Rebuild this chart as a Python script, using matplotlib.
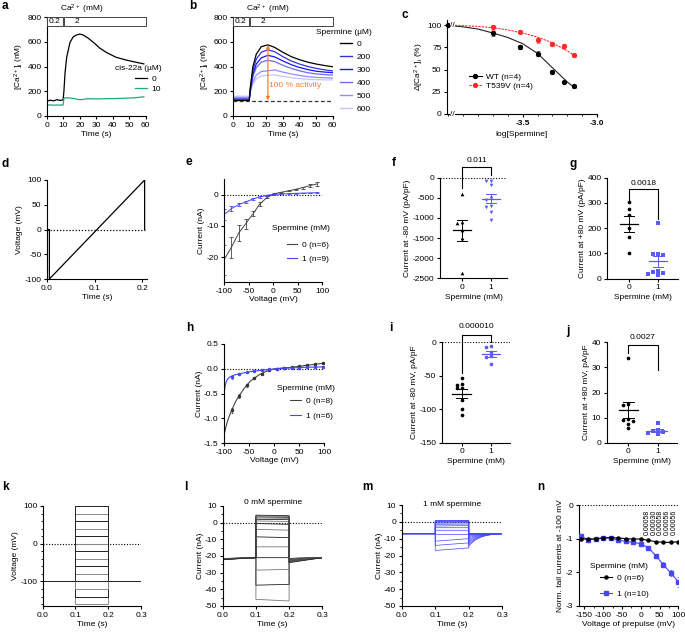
import matplotlib
matplotlib.use("Agg")
import matplotlib.pyplot as plt
from matplotlib.patches import Rectangle
from matplotlib.lines import Line2D
from matplotlib.ticker import MultipleLocator
import numpy as np

plt.rcParams['font.family'] = ['Liberation Sans', 'DejaVu Sans']
plt.rcParams['mathtext.default'] = 'regular'
plt.rcParams['font.size'] = 6
plt.rcParams['axes.linewidth'] = 0.8
plt.rcParams['axes.unicode_minus'] = False

BLUE = '#4646ff'
DOTBLUE = '#5a5aff'
ORANGE = '#ff7f2a'
GREEN = '#22a87a'
RED = '#ff2a2a'

# ------------------------------------------------
# DATA
# ------------------------------------------------

# a : Ca2+ imaging, cis-22a
a_time = [0, 2, 4, 6, 8, 9.8, 10.3, 11, 12, 14, 16, 18, 20, 22, 25, 29, 32, 36, 42, 48, 54, 59]
a_ctrl = [120, 128, 122, 132, 126, 130, 200, 350, 475, 595, 640, 655, 662, 655, 630, 587, 550, 515, 475, 453, 435, 421]
a_drug = [88, 90, 87, 89, 88, 90, 140, 148, 147, 145, 142, 136, 132, 134, 140, 138, 138, 140, 141, 144, 148, 155]
a_doses = ['0', '10']

ca_labels = ['0.2', '2']
ca_start = [0, 10.5]
ca_end = [9.5, 60]

# b : spermine dose series
b_time = [0, 9.8, 10.5, 12, 14, 17, 21, 25, 30, 35, 40, 45, 50, 55, 60]
b_doses = ['0', '200', '300', '400', '500', '600']
b_0 = [125, 125, 240, 400, 500, 560, 575, 555, 515, 480, 455, 435, 420, 408, 398]
b_200 = [135, 135, 230, 370, 460, 515, 535, 520, 480, 445, 420, 400, 385, 373, 364]
b_300 = [130, 130, 215, 340, 420, 470, 490, 478, 445, 415, 392, 375, 362, 355, 350]
b_400 = [140, 140, 210, 320, 390, 435, 450, 440, 410, 385, 365, 350, 340, 335, 331]
b_500 = [150, 150, 200, 280, 330, 360, 365, 372, 355, 340, 328, 318, 312, 309, 307]
b_600 = [160, 160, 200, 260, 300, 322, 330, 332, 320, 310, 302, 297, 294, 292, 291]
b_baseline = 125
b_peak = 575
b_peak_time = 21

# c : dose response
c_ctrl_x = -4.0
c_logx = [-3.70, -3.52, -3.40, -3.30, -3.22, -3.155]
c_wt = [90.6, 75.3, 67.8, 47, 36, 31]
c_wt_err = [2.5, 2.5, 2.5, 2.5, 1.5, 1.5]
c_mut = [97.4, 92.4, 83, 79, 76, 66]
c_mut_err = [3, 1.5, 3, 2, 3, 2]
c_fit_x = [-4.0, -3.9, -3.8, -3.7, -3.6, -3.5, -3.4, -3.3, -3.2, -3.155]
c_fit_wt = [99.5, 98, 95.5, 91, 86, 79, 68, 52, 36, 30]
c_fit_mut = [100, 99.3, 98.5, 97, 94.5, 91, 86.5, 80, 71, 66]

# d : ramp protocol
d_time = [0, 0.005, 0.005, 0.205, 0.205]
d_volt = [0, 0, -100, 100, 0]

# e : ramp IV, HEK
e_volt = [-100, -85, -70, -56, -41, -27, -12, 3, 17, 32, 46, 61, 76, 90]
e_ctrl = [-20.9, -16.9, -12.3, -9.4, -6.2, -3.0, -0.9, 0.3, 0.75, 1.2, 1.7, 2.25, 2.9, 3.4]
e_ctrl_err = [4.8, 3.4, 2.5, 1.5, 0.8, 0.5, 0.3, 0.2, 0.2, 0.2, 0.2, 0.3, 0.4, 0.5]
e_sperm = [-6.4, -4.5, -3.2, -2.4, -1.4, -0.75, -0.2, 0.1, 0.2, 0.3, 0.4, 0.5, 0.55, 0.6]
e_sperm_err = [1.7, 0.8, 0.6, 0.4, 0.3, 0.2, 0.1, 0.1, 0.1, 0.1, 0.1, 0.1, 0.1, 0.1]

# f, g : HEK current densities
f_ctrl = [-414, -1101, -1118, -1300, -1500, -2376]
f_sperm = [-75, -75, -182, -500, -560, -700, -720, -845, -1052]
f_p = '0.011'
g_ctrl = [305, 278, 252, 199, 164, 103]
g_sperm = [219, 99, 96, 94, 30, 28, 22, 20, 16]
g_p = '0.0018'

# h : ramp IV, second cell type
h_volt = [-100, -95, -90, -85, -78, -70, -62, -55, -48, -40, -30, -20, -10, 0, 10, 20, 35, 50, 65, 82, 97]
h_ctrl = [-1.31, -1.1, -0.95, -0.83, -0.67, -0.54, -0.42, -0.33, -0.25, -0.19, -0.12, -0.07, -0.03, 0.0, 0.01, 0.02, 0.03, 0.05, 0.07, 0.09, 0.11]
h_volt_b = [-100, -99, -97, -95, -92, -88, -84, -78, -70, -60, -50, -40, -30, -20, -10, 0, 20, 40, 60, 80, 100]
h_sperm = [-0.5, -0.38, -0.29, -0.23, -0.19, -0.16, -0.14, -0.12, -0.1, -0.08, -0.06, -0.045, -0.035, -0.025, -0.015, -0.005, 0.01, 0.02, 0.03, 0.035, 0.04]
h_pt_volt = [-85, -70, -55, -40, -25, -10, 5, 20, 35, 50, 65, 82, 97]
h_pt_ctrl = [-0.83, -0.54, -0.33, -0.19, -0.1, -0.03, 0.0, 0.02, 0.03, 0.05, 0.07, 0.09, 0.11]
h_pt_ctrl_err = [0.05, 0.04, 0.03, 0.02, 0.01, 0.01, 0.01, 0.01, 0.01, 0.01, 0.01, 0.015, 0.02]
h_pt_sperm = [-0.17, -0.11, -0.07, -0.04, -0.025, -0.01, 0.0, 0.01, 0.02, 0.025, 0.03, 0.035, 0.04]
h_pt_sperm_err = [0.03, 0.02, 0.015, 0.01, 0.01, 0.01, 0.01, 0.01, 0.01, 0.01, 0.01, 0.01, 0.01]

# i, j : current densities
i_ctrl = [-54, -63, -64, -69, -69, -86, -99, -108]
i_sperm = [-6, -7, -15, -20, -22, -33]
i_p = '0.000010'
j_ctrl = [33.6, 15.5, 15, 9.5, 9, 8.5, 7.5, 5.7]
j_sperm = [7.8, 5, 4.5, 4.3, 4, 3.3]
j_p = '0.0027'

# k : step protocol
k_levels = [-160, -140, -120, -100, -80, -60, -40, -20, 0, 20, 40, 60, 80, 100]
k_hold = -100
step_on, step_off, sweep_end = 0.1, 0.2, 0.3

# l : 0 mM spermine traces
l_hold = -21.5
l_step_start = [-46, -37.5, -28.5, -21, -14.5, -8.5, -4, -0.5, 1, 2, 2.8, 3.5, 4, 4.5]
l_step_end = [-47, -37, -28, -21, -14.5, -9, -4.5, -1, 0.7, 1.8, 2.6, 3.2, 3.7, 4.2]
l_tail = [-21.5, -21.5, -21.5, -21.5, -21.6, -21.8, -22, -22.3, -22.6, -23, -23.3, -23.5, -23.7, -24]
l_end = -21

# m : 1 mM spermine traces
m_hold = -7
m_step_start = [-17, -14, -11.5, -7, -5, -3.5, -2.5, -1.5, -0.8, -0.2, 0.3, 0.5, 0.6, 0.7]
m_step_end = [-15.5, -12.5, -10, -7, -5, -3.5, -2.2, -1.3, -0.6, 0, 0.3, 0.5, 0.6, 0.7]
m_tail = [-7, -7, -7, -7, -7.2, -7.5, -8, -8.7, -9.5, -10.5, -11.5, -12.5, -13.5, -14.5]
m_tail_t = [0.2, 0.21, 0.22, 0.235, 0.25, 0.27, 0.3]
m_tail_frac = [1, 0.72, 0.5, 0.3, 0.17, 0.07, 0]

# n : normalized tail currents
n_volt = [-160, -140, -120, -100, -80, -60, -40, -20, 0, 20, 40, 60, 80, 100]
n_ctrl = [-1.01, -1.01, -1.01, -0.98, -0.97, -0.98, -1.0, -1.01, -1.01, -1.05, -1.09, -1.11, -1.11, -1.09]
n_ctrl_err = [0.02] * 14
n_sperm = [-0.93, -1.03, -1.01, -0.98, -0.98, -1.05, -1.08, -1.11, -1.15, -1.27, -1.5, -1.77, -2.02, -2.28]
n_sperm_err = [0.03, 0.03, 0.02, 0.02, 0.02, 0.03, 0.03, 0.03, 0.03, 0.04, 0.05, 0.07, 0.08, 0.15]
n_pvals = ['0.00058', '0.00030', '0.00058', '0.00056', '0.00056']

# ------------------------------------------------
# HELPERS
# ------------------------------------------------

W, H = 685, 633
fig = plt.figure(figsize=(6.85, 6.33), dpi=100)


def px_axes(x0, y0, x1, y1):
    ax = fig.add_axes([x0 / W, 1 - y1 / H, (x1 - x0) / W, (y1 - y0) / H])
    for s in ['top', 'right']:
        ax.spines[s].set_visible(False)
    ax.tick_params(direction='out', length=2.5, width=0.8, labelsize=6, pad=1.5)
    ax.tick_params(which='minor', length=1.5, width=0.6)
    return ax


def label(x, y, s):
    fig.text(x / W, 1 - y / H, s, fontsize=8.5, fontweight='bold', va='center', ha='left')


def ftext(x, y, s, **kw):
    fig.text(x / W, 1 - y / H, s, fontsize=6, va='center', ha='left', **kw)


def legend(ax, handles, labels, x, y, spacing, hl=1.4):
    leg = ax.legend(handles, labels, loc='upper left',
                    bbox_to_anchor=(x / W, 1 - (y - 4.5) / H), bbox_transform=fig.transFigure,
                    frameon=False, fontsize=6, borderpad=0, borderaxespad=0,
                    handlelength=hl, handletextpad=0.6,
                    labelspacing=(spacing - 8.3) / 8.3)
    return leg


def ca_boxes(ax):
    for lab, s, e in zip(ca_labels, ca_start, ca_end):
        ax.add_patch(Rectangle((s, 730), e - s, 70, facecolor='white', edgecolor='#444444',
                               lw=0.7, clip_on=False, zorder=4))
    ax.text((ca_start[0] + ca_end[0]) / 2, 765, ca_labels[0], ha='center', va='center', fontsize=6, zorder=5)
    ax.text(18, 765, ca_labels[1], ha='center', va='center', fontsize=6, zorder=5)
    ax.text(21, 808, 'Ca$^{2+}$ (mM)', ha='center', va='bottom', fontsize=6, clip_on=False)


def swarm(vals, tol, step):
    placed = []
    offs = []
    for v in vals:
        near = [o for (pv, o) in placed if abs(pv - v) < tol]
        for c in [0, -step, step, -2 * step, 2 * step]:
            if c not in near:
                break
        placed.append((v, c))
        offs.append(c)
    return offs


def dot_panel(ax, v0, v1, m0, m1, tol, p, yb_left, yb_top, yb_right, yp):
    for xi, vals, mk, col in [(0, v0, m0, 'black'), (1, v1, m1, DOTBLUE)]:
        offs = swarm(vals, tol, 0.17)
        ax.scatter([xi + o for o in offs], vals, marker=mk, s=7, color=col, lw=0, zorder=3, clip_on=False)
        mean = np.mean(vals)
        sem = np.std(vals, ddof=1) / np.sqrt(len(vals))
        ax.plot([xi - 0.32, xi + 0.32], [mean, mean], color=col, lw=0.9, zorder=4)
        ax.plot([xi, xi], [mean - sem, mean + sem], color=col, lw=0.7, zorder=4)
        for yy in [mean - sem, mean + sem]:
            ax.plot([xi - 0.18, xi + 0.18], [yy, yy], color=col, lw=0.7, zorder=4)
    ax.plot([0, 0, 1, 1], [yb_left, yb_top, yb_top, yb_right], color='black', lw=0.8, clip_on=False)
    ax.text(0.5, yp, p, ha='center', va='center', fontsize=6, clip_on=False)
    ax.axhline(0, color='black', lw=0.8, ls=(0, (1, 1.5)), zorder=1)
    ax.set_xticks([0, 1])
    ax.set_xlabel('Spermine (mM)', labelpad=2)


# ------------------------------------------------
# PANEL a
# ------------------------------------------------

ax = px_axes(47, 17, 145.5, 116)
ax.plot(a_time, a_ctrl, color='black', lw=0.9)
ax.plot(a_time, a_drug, color=GREEN, lw=0.9)
ax.set_xlim(0, 60)
ax.set_ylim(0, 800)
ax.set_xticks(range(0, 61, 10))
ax.set_yticks(range(0, 801, 200))
ax.set_xlabel('Time (s)', labelpad=2)
ax.set_ylabel('[Ca$^{2+}$]$_i$ (nM)', labelpad=1)
ca_boxes(ax)
ftext(115, 69, 'cis-22a (µM)')
legend(ax, [Line2D([], [], color='black', lw=0.9), Line2D([], [], color=GREEN, lw=0.9)],
       a_doses, 135, 80, 10.5)

# ------------------------------------------------
# PANEL b
# ------------------------------------------------

ax = px_axes(233, 17, 332.7, 116)
b_colors = ['black', '#3636d8', '#1515ff', '#6c6cf2', '#8e8eff', '#c6c6ff']
b_lines = []
for ys, col in zip([b_0, b_200, b_300, b_400, b_500, b_600][::-1], b_colors[::-1]):
    ax.plot(b_time, ys, color=col, lw=0.9)
for col in b_colors:
    b_lines.append(Line2D([], [], color=col, lw=1.0))
ax.plot([0, 60], [b_baseline, b_baseline], color='#333333', lw=0.9, ls=(0, (3, 2)), zorder=3)
ax.annotate('', xy=(b_peak_time, b_peak), xytext=(b_peak_time, b_baseline),
            arrowprops=dict(arrowstyle='<|-|>', color=ORANGE, lw=0.9, mutation_scale=5, shrinkA=0, shrinkB=0), zorder=5)
ax.text(b_peak_time + 0.8, 245, '100 % activity', color=ORANGE, fontsize=6, va='center', ha='left', zorder=5)
ax.set_xlim(0, 60)
ax.set_ylim(0, 800)
ax.set_xticks(range(0, 61, 10))
ax.set_yticks(range(0, 801, 200))
ax.set_xlabel('Time (s)', labelpad=2)
ax.set_ylabel('[Ca$^{2+}$]$_i$ (nM)', labelpad=1)
ca_boxes(ax)
ftext(316, 33, 'Spermine (µM)')
legend(ax, b_lines, b_doses, 340, 44.3, 13.5)

# ------------------------------------------------
# PANEL c
# ------------------------------------------------

ax = px_axes(447, 20, 597, 114)
ax.plot(c_fit_x, c_fit_wt, color='#222222', lw=0.8)
ax.plot(c_fit_x, c_fit_mut, color=RED, lw=0.8, ls=(0, (2, 1)))
ax.errorbar(c_logx, c_wt, yerr=c_wt_err, fmt='o', ms=2.8, color='black', ecolor='#555555',
            elinewidth=0.6, capsize=1.2, capthick=0.6, zorder=4)
ax.errorbar(c_logx, c_mut, yerr=c_mut_err, fmt='o', ms=2.8, color=RED, ecolor='#ff7777',
            elinewidth=0.6, capsize=1.2, capthick=0.6, zorder=4)
ax.plot([c_ctrl_x], [100], 'o', ms=2.8, color='black', clip_on=False, zorder=5)
ax.set_xlim(-4.01, -3.0)
ax.set_ylim(0, 105.7)
ax.set_yticks([0, 25, 50, 75, 100])
ax.set_xticks([-3.5, -3.0])
ax.set_xticklabels(['-3.5', '-3.0'], fontweight='bold')
ax.xaxis.set_minor_locator(MultipleLocator(0.1))
for yy in [0, 100]:
    ax.text(-3.975, yy, '//', fontsize=6, ha='center', va='center', clip_on=False,
            bbox=dict(facecolor='white', edgecolor='none', pad=0.2), zorder=6)
ax.set_xlabel('log[Spermine]', labelpad=3)
ax.set_ylabel(r'$\Delta$[Ca$^{2+}$]$_i$ (%)', labelpad=1)
legend(ax, [Line2D([], [], color='black', lw=0.8, marker='o', ms=2.8),
            Line2D([], [], color=RED, lw=0.8, ls=(0, (2, 1)), marker='o', ms=2.8)],
       ['WT (n=4)', 'T539V (n=4)'], 469, 78, 9.5, hl=1.5)

# ------------------------------------------------
# PANEL d
# ------------------------------------------------

ax = px_axes(47, 180, 147, 279)
ax.plot([0, 0.205], [0, 0], color='black', lw=0.9, ls=(0, (1, 1.5)))
ax.plot(d_time, d_volt, color='black', lw=0.9)
ax.set_xlim(0, 0.21)
ax.set_ylim(-100, 100)
ax.set_xticks([0.0, 0.1, 0.2])
ax.set_xticklabels(['0.0', '0.1', '0.2'])
ax.set_yticks([-100, -50, 0, 50, 100])
ax.set_xlabel('Time (s)', labelpad=2)
ax.set_ylabel('Voltage (mV)', labelpad=1)

# ------------------------------------------------
# PANEL e
# ------------------------------------------------

ax = px_axes(224, 179, 322, 282)
ax.axhline(0, color='black', lw=0.8, ls=(0, (1, 1.5)))
ax.errorbar(e_volt, e_ctrl, yerr=e_ctrl_err, color='#444444', lw=0.7, elinewidth=0.6,
            capsize=1.2, capthick=0.6)
ax.errorbar(e_volt, e_sperm, yerr=e_sperm_err, color=BLUE, lw=0.7, elinewidth=0.6,
            capsize=1.2, capthick=0.6)
ax.set_xlim(-100, 100)
ax.set_ylim(-28, 5)
ax.set_xticks([-100, -50, 0, 50, 100])
ax.set_yticks([-20, -10, 0])
ax.set_xlabel('Voltage (mV)', labelpad=1)
ax.set_ylabel('Current (nA)', labelpad=1)
ftext(272, 229, 'Spermine (mM)')
legend(ax, [Line2D([], [], color='#444444', lw=0.8), Line2D([], [], color=BLUE, lw=0.8)],
       ['0 (n=6)', '1 (n=9)'], 287, 246, 14, hl=1.2)

# ------------------------------------------------
# PANEL f, g
# ------------------------------------------------

ax = px_axes(440, 177.7, 507, 278.3)
dot_panel(ax, f_ctrl, f_sperm, '^', 'v', 90, f_p, -250, 265, 70, 430)
ax.set_xlim(-0.76, 1.55)
ax.set_ylim(-2500, 0)
ax.set_yticks([-2500, -2000, -1500, -1000, -500, 0])
ax.set_ylabel('Current at -80 mV (pA/pF)', labelpad=1)

ax = px_axes(607, 177.7, 678, 278.7)
dot_panel(ax, g_ctrl, g_sperm, 'o', 's', 14, g_p, 312, 354, 238, 378)
ax.set_xlim(-0.76, 1.69)
ax.set_ylim(0, 400)
ax.set_yticks([0, 100, 200, 300, 400])
ax.set_ylabel('Current at +80 mV (pA/pF)', labelpad=1)

# ------------------------------------------------
# PANEL h
# ------------------------------------------------

ax = px_axes(224.3, 344, 324, 443.3)
ax.axhline(0, color='black', lw=0.8, ls=(0, (1, 1.5)))
ax.plot(h_volt, h_ctrl, color='#444444', lw=0.8)
ax.plot(h_volt_b, h_sperm, color=BLUE, lw=0.8)
ax.errorbar(h_pt_volt, h_pt_ctrl, yerr=h_pt_ctrl_err, fmt='o', ms=1.5, color='#333333',
            elinewidth=0.5, capsize=1, capthick=0.5)
ax.errorbar(h_pt_volt, h_pt_sperm, yerr=h_pt_sperm_err, fmt='o', ms=1.5, color=BLUE,
            elinewidth=0.5, capsize=1, capthick=0.5)
ax.set_xlim(-100, 100)
ax.set_ylim(-1.5, 0.5)
ax.set_xticks([-100, -50, 0, 50, 100])
ax.set_yticks([-1.5, -1.0, -0.5, 0.0, 0.5])
ax.set_xlabel('Voltage (mV)', labelpad=1)
ax.set_ylabel('Current (nA)', labelpad=1)
ftext(277, 388, 'Spermine (mM)')
legend(ax, [Line2D([], [], color='#444444', lw=0.8), Line2D([], [], color=BLUE, lw=0.8)],
       ['0 (n=8)', '1 (n=6)'], 290, 402, 15, hl=1.3)

# ------------------------------------------------
# PANEL i, j
# ------------------------------------------------

ax = px_axes(441.7, 342.3, 510, 442.7)
dot_panel(ax, i_ctrl, i_sperm, 'o', 'o', 4, i_p, -46, 11, 0, 23)
ax.set_xlim(-0.68, 1.65)
ax.set_ylim(-150, 0)
ax.set_yticks([-150, -100, -50, 0])
ax.set_ylabel('Current at -80 mV, pA/pF', labelpad=1)

ax = px_axes(606.7, 342.3, 676.7, 442.7)
dot_panel(ax, j_ctrl, j_sperm, 'o', 's', 1.2, j_p, 35.6, 38.9, 28.9, 42)
ax.set_xlim(-0.74, 1.65)
ax.set_ylim(0, 40)
ax.set_yticks([0, 10, 20, 30, 40])
ax.set_ylabel('Current at +80 mV, pA/pF', labelpad=1)

# ------------------------------------------------
# PANEL k
# ------------------------------------------------

ax = px_axes(42.7, 506, 141, 606)
ax.axhline(0, color='black', lw=0.8, ls=(0, (1, 1.5)))
for n, lvl in enumerate(k_levels):
    col = '#222222' if n % 2 else '#888888'
    ax.plot([0, 0.001, 0.001, step_on, step_on, step_off, step_off, sweep_end],
            [0, 0, k_hold, k_hold, lvl, lvl, k_hold, k_hold], color=col, lw=0.7)
ax.set_xlim(0, 0.3)
ax.set_ylim(-165, 100)
ax.set_xticks([0, 0.1, 0.2, 0.3])
ax.set_xticklabels(['0.0', '0.1', '0.2', '0.3'])
ax.set_yticks([-100, 0, 100])
ax.yaxis.set_minor_locator(MultipleLocator(20))
ax.set_xlabel('Time (s)', labelpad=2)
ax.set_ylabel('Voltage (mV)', labelpad=1)

# ------------------------------------------------
# PANEL l, m
# ------------------------------------------------

ax = px_axes(222.7, 506, 322.3, 606)
ax.axhline(0, color='black', lw=0.8, ls=(0, (1, 1.5)))
for n in range(len(l_step_start)):
    col = '#222222' if n % 2 else '#777777'
    ax.plot([0, step_on, step_on, step_off, step_off, sweep_end],
            [l_hold - 0.05 * n, l_hold + 0.5, l_step_start[n], l_step_end[n], l_tail[n], l_end],
            color=col, lw=0.6)
ax.set_xlim(0, 0.3)
ax.set_ylim(-50, 10)
ax.set_xticks([0, 0.1, 0.2, 0.3])
ax.set_xticklabels(['0.0', '0.1', '0.2', '0.3'])
ax.set_yticks(range(-50, 11, 10))
ax.yaxis.set_minor_locator(MultipleLocator(5))
ax.set_xlabel('Time (s)', labelpad=2)
ax.set_ylabel('Current (nA)', labelpad=1)
fig.text(273 / W, 1 - 502 / H, '0 mM spermine', fontsize=6, ha='center', va='center')

ax = px_axes(401.7, 505, 502.3, 606)
ax.axhline(0, color='black', lw=0.8, ls=(0, (1, 1.5)))
for n in range(len(m_step_start)):
    tail = [m_hold + (m_tail[n] - m_hold) * f for f in m_tail_frac]
    ax.plot([0, step_on, step_on, step_off] + m_tail_t,
            [m_hold, m_hold, m_step_start[n], m_step_end[n]] + tail,
            color=BLUE, lw=0.5)
ax.set_xlim(0, 0.3)
ax.set_ylim(-50, 10)
ax.set_xticks([0, 0.1, 0.2, 0.3])
ax.set_xticklabels(['0.0', '0.1', '0.2', '0.3'])
ax.set_yticks(range(-50, 11, 10))
ax.yaxis.set_minor_locator(MultipleLocator(5))
ax.set_xlabel('Time (s)', labelpad=2)
ax.set_ylabel('Current (nA)', labelpad=1)
fig.text(452 / W, 1 - 504 / H, '1 mM spermine', fontsize=6, ha='center', va='center')

# ------------------------------------------------
# PANEL n
# ------------------------------------------------

ax = px_axes(578.7, 505, 678.3, 606)
ax.axhline(0, color='black', lw=0.8, ls=(0, (1, 1.5)))
ax.errorbar(n_volt, n_ctrl, yerr=n_ctrl_err, fmt='-o', ms=2.2, color='black', lw=0.8,
            elinewidth=0.5, capsize=1, capthick=0.5, zorder=4)
ax.errorbar(n_volt, n_sperm, yerr=n_sperm_err, fmt='-s', ms=2.2, color=BLUE, lw=0.8,
            elinewidth=0.5, capsize=1, capthick=0.5, zorder=3)
for xx, pv in zip([18, 36, 53, 71, 89], n_pvals):
    ax.text(xx, -0.88, pv, rotation=90, fontsize=5, ha='center', va='bottom')
ax.set_xlim(-165, 100)
ax.set_ylim(-3, 0)
ax.set_xticks([-150, -100, -50, 0, 50, 100])
ax.set_yticks([-3, -2, -1, 0])
ax.xaxis.set_minor_locator(MultipleLocator(25))
ax.set_xlabel('Voltage of prepulse (mV)', labelpad=2)
ax.set_ylabel('Norm. tail currents at -100 mV', labelpad=1)
ftext(590, 567, 'Spermine (mM)')
legend(ax, [Line2D([], [], color='black', lw=0.8, marker='o', ms=2.2),
            Line2D([], [], color=BLUE, lw=0.8, marker='s', ms=2.2)],
       ['0 (n=6)', '1 (n=10)'], 600, 579, 16, hl=1.4)

# ------------------------------------------------
# PANEL LABELS
# ------------------------------------------------

for s, x, y in [('a', 2, 6), ('b', 189, 6), ('c', 402, 15), ('d', 2, 164), ('e', 185, 162),
                ('f', 392, 163), ('g', 570, 164), ('h', 186, 328), ('i', 389, 328),
                ('j', 566, 331), ('k', 2, 487), ('l', 184, 487), ('m', 362, 487), ('n', 537, 487)]:
    label(x, y, s)

fig.savefig('out.png', dpi=100)
